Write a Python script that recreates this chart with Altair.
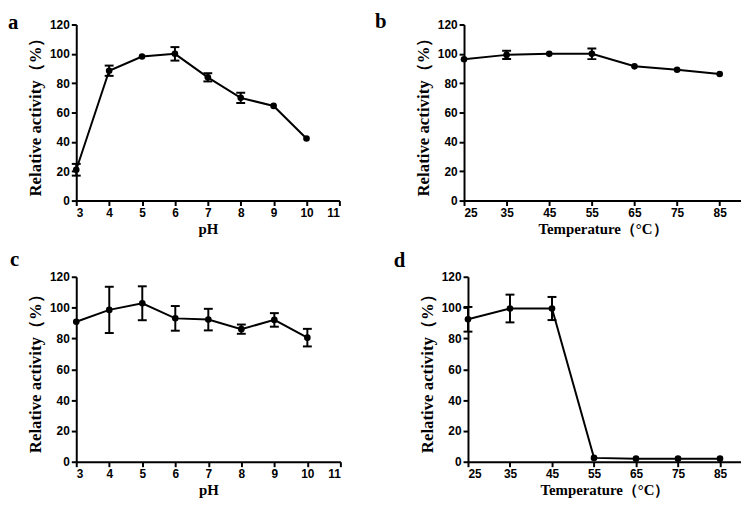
import altair as alt
import pandas as pd

# Panel a: pH (activity)
ph = [3, 4, 5, 6, 7, 8, 9, 10]
a_val = [21, 88.5, 98.2, 100, 84, 70, 64.5, 42.3]
a_err = [4, 3.5, 0, 4.6, 2.8, 3.5, 0, 0]

# Panel b: temperature (activity)
temp = [25, 35, 45, 55, 65, 75, 85]
b_val = [96.3, 99.3, 100, 100, 91.5, 89.2, 86.3]
b_err = [0, 2.8, 0, 3.6, 0, 0, 0]

# Panel c: pH stability
c_val = [90.8, 98.5, 102.8, 93, 92.2, 86, 92, 80.5]
c_err = [0, 15, 11, 8, 7, 3, 4.4, 5.7]

# Panel d: thermal stability
d_val = [92.4, 99.4, 99.4, 2.5, 2, 2, 2]
d_err = [8, 9, 7.5, 0, 0, 0, 0]

ph_ticks = [3, 4, 5, 6, 7, 8, 9, 10, 11]
temp_ticks = [25, 35, 45, 55, 65, 75, 85]
y_ticks = [0, 20, 40, 60, 80, 100, 120]

YTITLE = "Relative activity（%）"
SERIF = "Liberation Serif"


def panel(xs, vals, errs, xdom, xticks, xtitle, letter, lx, ly, w, h):
    df = pd.DataFrame({"x": xs, "y": vals, "err": errs})
    df["lo"] = df["y"] - df["err"]
    df["hi"] = df["y"] + df["err"]
    xscale = alt.Scale(domain=xdom, nice=False, zero=False)
    yscale = alt.Scale(domain=[0, 120], nice=False)
    xaxis = alt.Axis(values=xticks, title=xtitle, titleFont=SERIF,
                     titleFontWeight="bold", titleFontSize=15, titlePadding=3)
    yaxis = alt.Axis(values=y_ticks, title=YTITLE, titleFont=SERIF,
                     titleFontWeight="bold", titleFontSize=17, titlePadding=5)
    xenc = alt.X("x:Q", scale=xscale, axis=xaxis)
    yenc = alt.Y("y:Q", scale=yscale, axis=yaxis)
    base = alt.Chart(df)
    line = base.mark_line(color="black", strokeWidth=2).encode(x=xenc, y=yenc)
    pts = base.mark_circle(color="black", size=45, opacity=1).encode(x=xenc, y=yenc)
    ebase = alt.Chart(df[df["err"] > 0])
    rule = ebase.mark_rule(color="black", strokeWidth=2).encode(
        x=xenc,
        y=alt.Y("lo:Q", scale=yscale, axis=yaxis),
        y2="hi:Q",
    )
    cap_lo = ebase.mark_tick(color="black", thickness=2, size=9, orient="horizontal", opacity=1).encode(
        x=xenc,
        y=alt.Y("lo:Q", scale=yscale, axis=yaxis),
    )
    cap_hi = ebase.mark_tick(color="black", thickness=2, size=9, orient="horizontal", opacity=1).encode(
        x=xenc,
        y=alt.Y("hi:Q", scale=yscale, axis=yaxis),
    )
    lab = alt.Chart(pd.DataFrame({"t": [letter]})).mark_text(
        font=SERIF, fontWeight="bold", fontSize=21,
        align="left", baseline="alphabetic", color="black",
    ).encode(x=alt.value(lx), y=alt.value(ly), text="t:N")
    return alt.layer(line, rule, cap_lo, cap_hi, pts, lab).properties(width=w, height=h)


pa = panel(ph, a_val, a_err, [3, 11], ph_ticks, "pH", "a", -69, 5, 266, 178)
pb = panel(temp, b_val, b_err, [25, 90], temp_ticks, "Temperature（°C）", "b", -90, 4, 280, 178)
pc = panel(ph, c_val, c_err, [3, 11], ph_ticks, "pH", "c", -67, -11, 267, 187)
pd_ = panel(temp, d_val, d_err, [25, 90], temp_ticks, "Temperature（°C）", "d", -75, -10, 276, 187)

top = alt.hconcat(pa, pb, spacing=35)
bottom = alt.hconcat(pc, pd_, spacing=53)
chart = alt.vconcat(top, bottom, spacing=13).properties(
    padding={"left": 0, "top": 1, "right": 0, "bottom": 0}
).configure_view(
    stroke=None
).configure_axis(
    grid=False,
    domainColor="black",
    domainWidth=2,
    tickColor="black",
    tickWidth=2,
    tickSize=5,
    labelFont="Liberation Sans",
    labelFontWeight="bold",
    labelFontSize=12,
    labelColor="black",
    labelPadding=2,
    titleFont=SERIF,
    titleFontWeight="bold",
    titleColor="black",
)

chart.save("out.html", embed_options={"renderer": "svg", "actions": False})
